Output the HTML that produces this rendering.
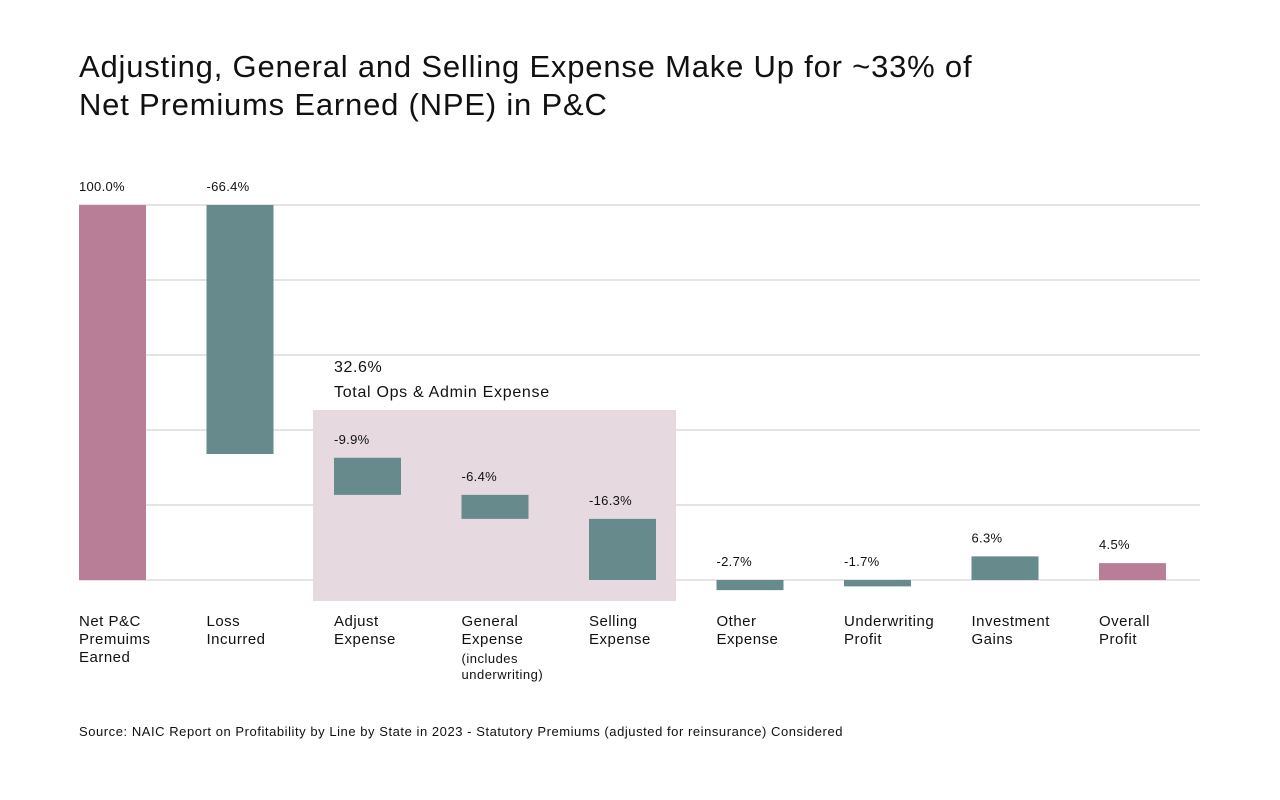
<!DOCTYPE html>
<html><head><meta charset="utf-8"><style>
body{margin:0;background:#fff;font-family:"Liberation Sans",sans-serif;color:#111}
#wrap{position:relative;width:1280px;height:800px;overflow:hidden}
h1{position:absolute;left:79px;top:48px;margin:0;font-weight:400;font-size:31px;line-height:38px;letter-spacing:0.8px}
.src{position:absolute;left:79px;top:724px;font-size:13px;letter-spacing:0.55px}
</style></head><body><div id="wrap">
<h1>Adjusting, General and Selling Expense Make Up for ~33% of<br>Net Premiums Earned (NPE) in P&amp;C</h1>
<svg id="c" width="1280" height="800" style="position:absolute;left:0;top:0"></svg>
<div class="src">Source: NAIC Report on Profitability by Line by State in 2023 - Statutory Premiums (adjusted for reinsurance) Considered</div>
</div>
<script>
const categories=[["Net P&C","Premuims","Earned"],["Loss","Incurred"],["Adjust","Expense"],["General","Expense"],["Selling","Expense"],["Other","Expense"],["Underwriting","Profit"],["Investment","Gains"],["Overall","Profit"]];
const values=[100,-66.4,-9.9,-6.4,-16.3,-2.7,-1.7,6.3,4.5];
const labels=["100.0%","-66.4%","-9.9%","-6.4%","-16.3%","-2.7%","-1.7%","6.3%","4.5%"];
const kinds=["total","drop","stack","stack","stack","neg","neg","pos","total"];
const gridTicks=[0,20,40,60,80,100];
const opsTotal="32.6%";
const NS="http://www.w3.org/2000/svg",svg=document.getElementById('c');
const y=v=>580-v*3.75, x=i=>79+i*127.5, BW=67;
function el(t,a,p){const e=document.createElementNS(NS,t);for(const k in a)e.setAttribute(k,a[k]);(p||svg).appendChild(e);return e;}
gridTicks.forEach(t=>{const l=el('line',{x1:79,x2:1200,y1:y(t),y2:y(t),stroke:'#c8c8c8','stroke-width':1});

});
const box=el('rect',{x:313,y:410,width:363,height:191,fill:'#e6d9df'});


let t1=el('text',{x:334,y:372,'font-size':16,fill:'#111','letter-spacing':0.6});t1.textContent=opsTotal;


let t2=el('text',{x:334,y:397,'font-size':16,fill:'#111','letter-spacing':0.7});t2.textContent="Total Ops & Admin Expense";


let stackTop=0;
let stackIdx=kinds.map((k,i)=>k==='stack'?i:-1).filter(i=>i>=0).reverse();
const stackExt={};stackIdx.forEach(i=>{const b=stackTop;stackTop+=Math.abs(values[i]);stackExt[i]=[b,stackTop];});
values.forEach((v,i)=>{let lo,hi;const k=kinds[i];
if(k==='drop'){hi=100;lo=100+v;}else if(k==='stack'){[lo,hi]=stackExt[i];}else{lo=Math.min(0,v);hi=Math.max(0,v);}
const color=(k==='total')?'#b87d97':'#678a8d';
const r=el('rect',{x:x(i),y:y(hi),width:BW,height:Math.max(1,y(lo)-y(hi)),fill:color});


const ly=(k==='neg')?y(0)-14:y(hi)-14;
const lt=el('text',{x:x(i),y:ly,'font-size':13,fill:'#111','letter-spacing':0.3});lt.textContent=labels[i];


const cl=categories[i];
cl.forEach((s,j)=>{const c=el('text',{x:x(i),y:626+j*18,'font-size':15,fill:'#111','letter-spacing':0.5});c.textContent=s;

});
});
[["(includes",663],["underwriting)",679]].forEach(([s,yy])=>{const c=el('text',{x:x(3),y:yy,'font-size':13,fill:'#111','letter-spacing':0.5});c.textContent=s;

});
</script></body></html>
